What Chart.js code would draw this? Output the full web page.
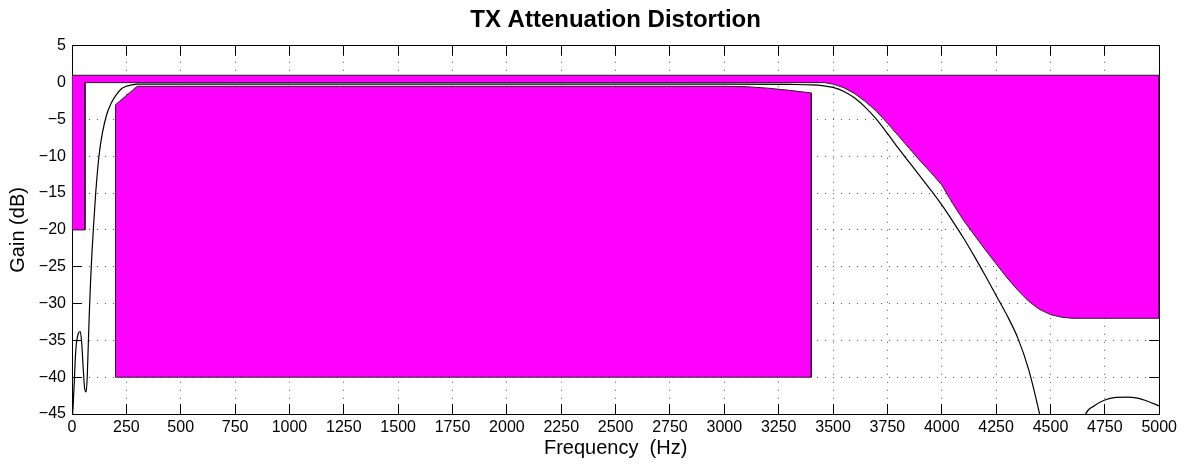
<!DOCTYPE html>
<html>
<head>
<meta charset="utf-8">
<style>
  html, body { margin: 0; padding: 0; background: #ffffff; }
  #wrap { width: 1191px; height: 470px; }
</style>
<script src="https://cdn.jsdelivr.net/npm/chart.js@4/dist/chart.umd.min.js"></script>
</head>
<body>
<div id="wrap"><canvas id="c" width="1191" height="470"></canvas></div>
<script>
// ---- Tick labels ----
const xTickValues = [0,250,500,750,1000,1250,1500,1750,2000,2250,2500,2750,3000,3250,3500,3750,4000,4250,4500,4750,5000];
const xTickLabels = ['0','250','500','750','1000','1250','1500','1750','2000','2250','2500','2750','3000','3250','3500','3750','4000','4250','4500','4750','5000'];
const yTickValues = [5,0,-5,-10,-15,-20,-25,-30,-35,-40,-45];
const yTickLabels = ['5','0','\u22125','\u221210','\u221215','\u221220','\u221225','\u221230','\u221235','\u221240','\u221245'];

// ---- Measured response (Hz, dB) ----
const respFreq = [0,5,10,15,20,30,38,45,52,58,65,70,75,80,86,92,98,109,124,140,160,180,200,225,250,275,300,500,1000,1500,2000,2500,3000,3300,3400,3450,3500,3550,3600,3650,3700,3750,3800,3850,3900,3950,4000,4050,4100,4150,4200,4250,4300,4350,4400,4450,4475,4500,4550,4600,4630,4662,4700,4750,4800,4850,4900,4950,5000];
const respGain = [-46,-44,-41,-37.5,-35.5,-34,-33.8,-35.5,-39,-41.5,-42,-40,-35.5,-31,-26.6,-23,-20,-15,-10,-6.8,-4.3,-2.8,-1.8,-0.9,-0.5,-0.3,-0.2,-0.2,-0.2,-0.2,-0.2,-0.2,-0.2,-0.25,-0.3,-0.4,-0.65,-1.2,-2.1,-3.4,-5.0,-6.9,-8.9,-10.8,-12.7,-14.6,-16.6,-18.8,-21.1,-23.6,-26.2,-28.9,-31.6,-34.7,-39.0,-45,-48.5,-52.5,-62,-53,-48.5,-45,-43.9,-43.1,-42.75,-42.7,-42.85,-43.3,-43.9];

// ---- Upper mask polygon (Hz, dB) ----
const upperMaskFreq = [0,5000,5000,4600,4550,4500,4450,4400,4350,4300,4250,4200,4150,4100,4050,4000,3950,3900,3850,3800,3750,3700,3650,3600,3550,3500,3460,60,60,0,0];
const upperMaskGain = [1,1,-32,-32,-31.85,-31.5,-30.8,-29.7,-28.2,-26.5,-24.6,-22.7,-20.7,-18.7,-16.4,-13.9,-12.2,-10.6,-8.9,-7.2,-5.5,-3.9,-2.6,-1.5,-0.7,-0.2,0,0,-20,-20,1];

// ---- Lower mask polygon (Hz, dB) ----
const lowerMaskFreq = [200,200,300,3000,3100,3200,3300,3400,3400,200];
const lowerMaskGain = [-40,-3,-0.5,-0.5,-0.55,-0.75,-1.05,-1.4,-40,-40];

const toXY = (xs, ys) => xs.map((x, i) => ({x: x, y: ys[i]}));

const FONT = "'Liberation Sans', Arial, Helvetica, sans-serif";
const MAGENTA = '#ff00ff';
const GRID = '#555555';

function setTicks(values) {
  return function (axis) { axis.ticks = values.map(v => ({value: v})); };
}

const commonGrid = {
  color: GRID,
  lineWidth: 1,
  drawTicks: true,
  tickLength: -10,
  tickColor: '#000000',
  tickWidth: 1,
  tickBorderDash: []
};
const commonBorder = { display: true, color: '#000000', width: 1, dash: [1, 7] };

new Chart(document.getElementById('c'), {
  type: 'line',
  data: {
    datasets: [
      {
        label: 'response',
        data: toXY(respFreq, respGain),
        borderColor: '#000000',
        borderWidth: 1.2,
        pointRadius: 0,
        fill: false,
        cubicInterpolationMode: 'monotone',
        order: 1
      },
      {
        label: 'upper mask',
        data: toXY(upperMaskFreq, upperMaskGain),
        borderColor: '#2a1a2a',
        borderWidth: 1,
        backgroundColor: MAGENTA,
        pointRadius: 0,
        tension: 0,
        fill: 'shape',
        order: 2
      },
      {
        label: 'lower mask',
        data: toXY(lowerMaskFreq, lowerMaskGain),
        borderColor: '#2a1a2a',
        borderWidth: 1,
        backgroundColor: MAGENTA,
        pointRadius: 0,
        tension: 0,
        fill: 'shape',
        order: 3
      }
    ]
  },
  options: {
    responsive: false,
    animation: false,
    devicePixelRatio: 1,
    events: [],
    layout: { padding: { left: 0, right: 29, top: 0, bottom: 0 } },
    plugins: {
      legend: { display: false },
      tooltip: { enabled: false },
      title: {
        display: true,
        text: 'TX Attenuation Distortion',
        fullSize: false,
        color: '#000000',
        font: { family: FONT, size: 24, weight: 'bold', lineHeight: 1.2 },
        padding: { top: 6, bottom: 11 }
      }
    },
    scales: {
      x: {
        type: 'linear',
        position: 'bottom',
        min: 0, max: 5000,
        afterBuildTicks: setTicks(xTickValues),
        afterFit: s => { s.height = 56; },
        grid: commonGrid,
        border: commonBorder,
        ticks: {
          color: '#000000',
          font: { family: FONT, size: 16 },
          padding: 14,
          maxRotation: 0,
          autoSkip: false,
          callback: (v, i) => xTickLabels[i]
        },
        title: {
          display: true,
          text: 'Frequency  (Hz)',
          color: '#000000',
          font: { family: FONT, size: 20 },
          padding: { top: 0, bottom: 10 }
        }
      },
      x2: {
        type: 'linear',
        position: 'top',
        min: 0, max: 5000,
        afterBuildTicks: setTicks(xTickValues),
        afterFit: s => { s.height = 0; },
        grid: Object.assign({}, commonGrid, { drawOnChartArea: false }),
        border: commonBorder,
        ticks: { display: false }
      },
      y: {
        type: 'linear',
        position: 'left',
        min: -45, max: 5,
        afterBuildTicks: setTicks(yTickValues),
        afterFit: s => { s.width = 72; },
        grid: commonGrid,
        border: commonBorder,
        ticks: {
          color: '#000000',
          font: { family: FONT, size: 16 },
          padding: 16,
          autoSkip: false,
          callback: (v, i) => yTickLabels[i]
        },
        title: {
          display: true,
          text: 'Gain (dB)',
          color: '#000000',
          font: { family: FONT, size: 20 },
          padding: { top: 6, bottom: 0 }
        }
      },
      y2: {
        type: 'linear',
        position: 'right',
        min: -45, max: 5,
        afterBuildTicks: setTicks(yTickValues),
        afterFit: s => { s.width = 0; },
        grid: Object.assign({}, commonGrid, { drawOnChartArea: false }),
        border: commonBorder,
        ticks: { display: false }
      }
    }
  }
});
</script>
</body>
</html>
